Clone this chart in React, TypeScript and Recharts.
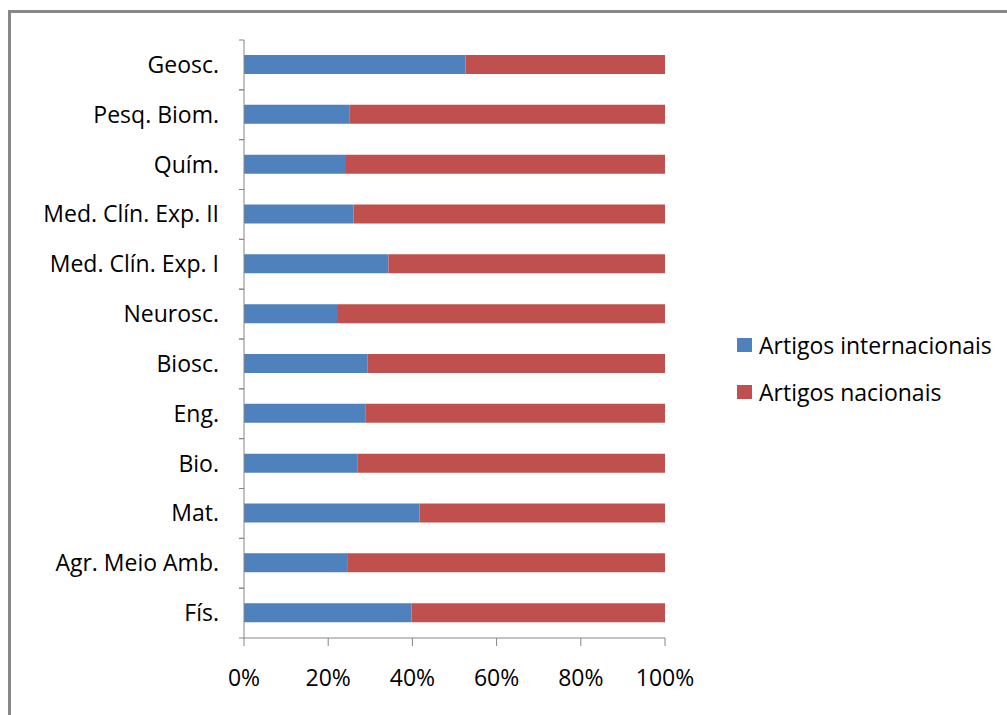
import React from 'react';
import { BarChart, Bar, XAxis, YAxis } from 'recharts';

const categories = [
  'Geosc.',
  'Pesq. Biom.',
  'Quím.',
  'Med. Clín. Exp. II',
  'Med. Clín. Exp. I',
  'Neurosc.',
  'Biosc.',
  'Eng.',
  'Bio.',
  'Mat.',
  'Agr. Meio Amb.',
  'Fís.',
];
const internacionais = [52.6, 25.0, 24.0, 26.0, 34.3, 22.1, 29.3, 28.8, 26.9, 41.7, 24.5, 39.8];
const nacionais = [47.4, 75.0, 76.0, 74.0, 65.7, 77.9, 70.7, 71.2, 73.1, 58.3, 75.5, 60.2];
const xTicks = [0, 0.2, 0.4, 0.6, 0.8, 1];

const data = categories.map((name, i) => ({
  name,
  internacionais: internacionais[i],
  nacionais: nacionais[i],
}));

const FONT = '"Open Sans", sans-serif';
const FS = 23;
const BLUE = '#4F81BD';
const RED = '#C0504D';
const AXIS = '#868686';

function CategoryTick(props: any) {
  const { x, y, payload } = props;
  const half = payload && payload.offset ? payload.offset : 598 / 24;
  const ax = x + 25;
  return (
    <g>
      <line x1={ax - 5} x2={ax} y1={y - half} y2={y - half} stroke={AXIS} />
      <line x1={ax - 5} x2={ax} y1={y + half} y2={y + half} stroke={AXIS} />
      <text x={x} y={y} dy="0.35em" textAnchor="end" fill="#000" fontSize={FS} fontFamily={FONT}>
        {payload.value}
      </text>
    </g>
  );
}

function LegendBox() {
  const items = [
    { label: 'Artigos internacionais', color: BLUE },
    { label: 'Artigos nacionais', color: RED },
  ];
  return (
    <div style={{ position: 'absolute', left: 737, top: 321, fontFamily: FONT, fontSize: FS }}>
      {items.map((it) => (
        <div key={it.label} style={{ display: 'flex', alignItems: 'center', height: 47 }}>
          <span style={{ display: 'inline-block', width: 15, height: 14, background: it.color, marginRight: 7 }} />
          <span style={{ color: '#000', whiteSpace: 'nowrap' }}>{it.label}</span>
        </div>
      ))}
    </div>
  );
}

export default function App() {
  return (
    <div style={{ position: 'absolute', left: 0, top: 0, width: 1007, height: 715, overflow: 'hidden', background: '#fff' }}>
      <div
        style={{
          position: 'absolute',
          left: 8,
          top: 10,
          width: 1010,
          height: 720,
          border: '3px solid #888',
          boxSizing: 'border-box',
        }}
      />
      <div style={{ position: 'absolute', left: 0, top: 0 }}>
        <BarChart
          width={1007}
          height={715}
          data={data}
          layout="vertical"
          stackOffset="expand"
          margin={{ top: 40, right: 342, bottom: 37, left: 8 }}
        >
          <XAxis
            type="number"
            domain={[0, 1]}
            ticks={xTicks}
            tickFormatter={(v: number) => `${Math.round(v * 100)}%`}
            height={40}
            tickSize={8}
            tickMargin={24}
            stroke={AXIS}
            tick={{ fill: '#000', fontSize: FS, fontFamily: FONT }}
            interval={0}
          />
          <YAxis
            type="category"
            dataKey="name"
            width={236}
            tickLine={false}
            tickSize={5}
            tickMargin={20}
            stroke={AXIS}
            tick={<CategoryTick />}
            interval={0}
          />
          <Bar dataKey="internacionais" stackId="a" fill={BLUE} barSize={19} isAnimationActive={false} />
          <Bar dataKey="nacionais" stackId="a" fill={RED} barSize={19} isAnimationActive={false} />
        </BarChart>
      </div>
      <LegendBox />
    </div>
  );
}
